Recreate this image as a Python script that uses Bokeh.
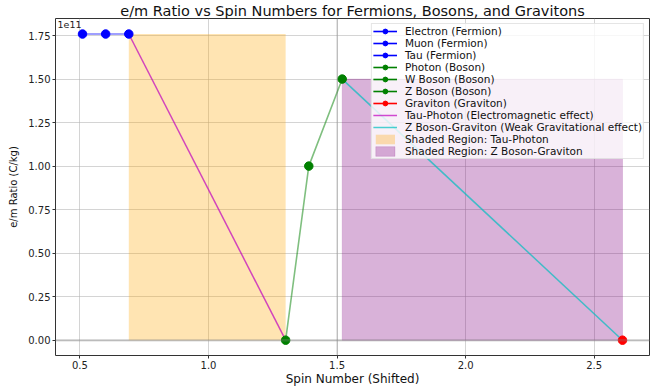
from bokeh.plotting import figure
from bokeh.models import (Legend, LegendItem, Span, Label, FixedTicker,
                          CustomJSTickFormatter, Range1d)
from bokeh.embed import file_html
from bokeh.resources import INLINE

# ---- data ----
particles = ["Electron", "Muon", "Tau", "Photon", "W Boson", "Z Boson", "Graviton"]
kinds = ["Fermion", "Fermion", "Fermion", "Boson", "Boson", "Boson", "Graviton"]
spin_shifted = [0.51, 0.60, 0.69, 1.30, 1.39, 1.52, 2.61]
em_ratio = [1.7588e11, 1.7588e11, 1.7588e11, 0.0, 1.0e11, 1.5e11, 0.0]

kind_colors = {"Fermion": "blue", "Boson": "green", "Graviton": "red"}

y_ticks = [0.0, 0.25e11, 0.5e11, 0.75e11, 1.0e11, 1.25e11, 1.5e11, 1.75e11]
x_ticks = [0.5, 1.0, 1.5, 2.0, 2.5]
zero_line = 0.0
divider_x = 1.5

FONT = "DejaVu Sans"

y_range = Range1d(-0.088e11, 1.848e11)
p = figure(width=656, height=388, output_backend="svg", toolbar_location=None,
           x_range=Range1d(0.405, 2.715), y_range=y_range,
           min_border_left=55, min_border_right=7, min_border_top=0, min_border_bottom=0,
           title="e/m Ratio vs Spin Numbers for Fermions, Bosons, and Gravitons")

p.title.align = "center"
p.title.text_font = FONT
p.title.text_font_size = "14.5px"
p.title.text_font_style = "normal"
p.title.text_color = "#111111"
p.title.standoff = 0
p.title.offset = 0

p.outline_line_color = "#333333"
p.outline_line_width = 1
p.background_fill_color = "white"

for ax in (p.xaxis[0], p.yaxis[0]):
    ax.axis_line_color = None
    ax.major_tick_line_color = "#333333"
    ax.major_tick_out = 3
    ax.major_tick_in = 0
    ax.minor_tick_line_color = None
    ax.major_label_text_font = FONT
    ax.major_label_text_font_size = "10px"
    ax.major_label_text_color = "#222222"
    ax.major_label_standoff = 2
    ax.axis_label_text_font = FONT
    ax.axis_label_text_font_style = "normal"
    ax.axis_label_text_color = "#111111"

p.xaxis.major_label_standoff = 2
p.xaxis.major_label_text_line_height = 1.0
p.xaxis.axis_label_text_line_height = 1.0
p.xaxis.ticker = FixedTicker(ticks=x_ticks)
p.yaxis.ticker = FixedTicker(ticks=y_ticks)
p.yaxis.formatter = CustomJSTickFormatter(code="return (tick/1e11).toFixed(2);")
p.xaxis.formatter = CustomJSTickFormatter(code="return tick.toFixed(1);")
p.xaxis.axis_label = "Spin Number (Shifted)"
p.yaxis.axis_label = "e/m Ratio (C/kg)"
p.xaxis.axis_label_text_font_size = "12px"
p.yaxis.axis_label_text_font_size = "10px"
p.xaxis.axis_label_standoff = 0
p.yaxis.axis_label_standoff = 6

p.grid.grid_line_color = "#b0b0b0"
p.grid.grid_line_alpha = 0.55
p.grid.grid_line_width = 1

# reference lines
p.add_layout(Span(location=zero_line, dimension="width", line_color="gray",
                  line_alpha=0.3, line_width=2.5))
p.add_layout(Span(location=divider_x, dimension="height", line_color="gray",
                  line_alpha=0.3, line_width=1.5))

# shaded regions
i_tau = particles.index("Tau")
i_pho = particles.index("Photon")
i_z = particles.index("Z Boson")
i_g = particles.index("Graviton")

q1 = p.quad(left=[spin_shifted[i_tau]], right=[spin_shifted[i_pho]],
            bottom=[0], top=[em_ratio[i_tau]],
            fill_color="orange", fill_alpha=0.3, line_color=None)
q2 = p.quad(left=[spin_shifted[i_z]], right=[spin_shifted[i_g]],
            bottom=[0], top=[em_ratio[i_z]],
            fill_color="purple", fill_alpha=0.3, line_color="purple", line_alpha=0.15)

# group connecting lines
for kind in ("Fermion", "Boson"):
    xs = [x for x, k in zip(spin_shifted, kinds) if k == kind]
    ys = [y for y, k in zip(em_ratio, kinds) if k == kind]
    p.line(xs, ys, line_color=kind_colors[kind], line_alpha=0.5, line_width=1.6)

# effect lines
l_tp = p.line([spin_shifted[i_tau], spin_shifted[i_pho]], [em_ratio[i_tau], em_ratio[i_pho]],
              line_color=(191, 0, 191), line_alpha=0.7, line_width=1.5)
l_zg = p.line([spin_shifted[i_z], spin_shifted[i_g]], [em_ratio[i_z], em_ratio[i_g]],
              line_color=(0, 191, 191), line_alpha=0.7, line_width=1.5)

# points + legend items
items = []
for name, kind, x, y in zip(particles, kinds, spin_shifted, em_ratio):
    c = kind_colors[kind]
    ln = p.line([x], [y], line_color=c, line_width=1.6)
    sc = p.scatter([x], [y], size=8.5, fill_color=c, line_color=c)
    items.append(LegendItem(label=f"{name} ({kind})", renderers=[ln, sc]))

items.append(LegendItem(label="Tau-Photon (Electromagnetic effect)", renderers=[l_tp]))
items.append(LegendItem(label="Z Boson-Graviton (Weak Gravitational effect)", renderers=[l_zg]))
items.append(LegendItem(label="Shaded Region: Tau-Photon", renderers=[q1]))
items.append(LegendItem(label="Shaded Region: Z Boson-Graviton", renderers=[q2]))

legend = Legend(items=items, location="top_right",
                label_text_font=FONT, label_text_font_size="10.5px",
                label_text_color="#111111", label_text_line_height=1.0,
                label_height=12, glyph_height=12, glyph_width=24, spacing=0,
                label_standoff=8, padding=1, margin=5,
                border_line_color="#cccccc", border_line_width=1,
                background_fill_color="white", background_fill_alpha=0.8)
p.add_layout(legend)

# offset text for scientific axis (kept just inside the frame's top-left corner)
p.add_layout(Label(x=0, y=y_range.end, x_units="screen", y_units="data", text="1e11",
                   text_font=FONT, text_font_size="9.5px", text_color="#222222",
                   text_baseline="top", x_offset=2, y_offset=-2))

open("out.html", "w").write(file_html(p, INLINE))
